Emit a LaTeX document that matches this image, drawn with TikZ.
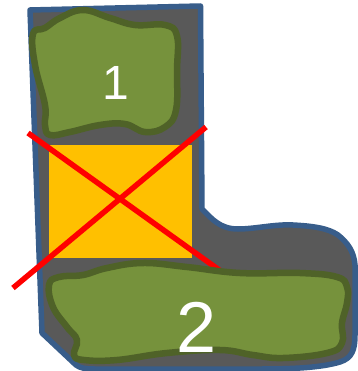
\documentclass[tikz,border=0pt]{standalone}
\usepackage{fontspec}
\setmainfont{Liberation Sans}
\definecolor{slab}{HTML}{595959}
\definecolor{slabline}{HTML}{385D8A}
\definecolor{patch}{HTML}{76923C}
\definecolor{patchline}{HTML}{4F6228}
\definecolor{block}{HTML}{FFC000}
\begin{document}
\begin{tikzpicture}[x=1pt,y=-1pt]
\useasboundingbox (0,0) rectangle (357,371);
\tikzset{patchshape/.style={fill=patch,draw=patchline,line width=6.5pt,line join=round},
  crossline/.style={red,line width=5.5pt},
  number/.style={white,inner sep=0pt}}
\draw[fill=slab,draw=slabline,line width=5.5pt,line join=round] (30,10)--(200.5,6)--(202,209)
  .. controls (212,219) and (220,229) .. (238,229)
  .. controls (255,229) and (275,224) .. (293,225)
  .. controls (312,226) and (328,228) .. (338,235)
  .. controls (348,243) and (354,252) .. (355,265)
  --(355,335)
  .. controls (355,350) and (352,358) .. (340,362)
  .. controls (320,368) and (290,369) .. (260,369)
  --(95,369) .. controls (85,369) and (80,368) .. (76,365)
  --(42,333)--cycle;
\fill[block] (49,145) rectangle (192,258);
\draw[crossline] (28,133)--(222,272);
\draw[crossline] (206,127)--(13,288);
\draw[patchshape] plot[smooth cycle,tension=0.7] coordinates {(33,34) (45,28) (60,18) (83,10)
  (110,18) (135,25) (165,25) (177,36) (177,70) (176,110) (165,127) (145,132)
  (125,124) (100,125) (70,132) (50,135) (45,125) (45,105) (35,65)};
\draw[patchshape] plot[smooth cycle,tension=0.7] coordinates {(49,285) (59,277) (83,275) (107,268)
  (143,263) (187,267) (240,273) (300,273) (337,277) (347,287) (347,303) (342,323)
  (342,343) (327,353) (283,358) (253,355) (220,350) (167,353) (117,360) (84,360)
  (74,355) (77,340) (67,327) (53,307)};
\node[number,font=\fontsize{48}{48}\selectfont] (one) at (116,83) {1};
\node[number,font=\fontsize{72}{72}\selectfont] (two) at (197,327) {2};
\end{tikzpicture}
\end{document}
